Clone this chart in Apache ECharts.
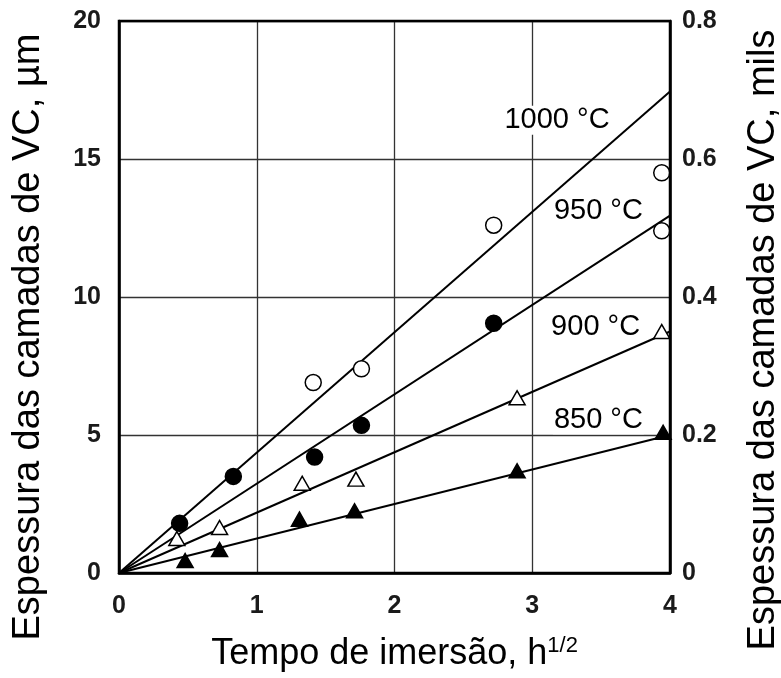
<!DOCTYPE html>
<html><head><meta charset="utf-8">
<script src="https://cdn.jsdelivr.net/npm/echarts@6/dist/echarts.min.js"></script>
<style>html,body{margin:0;padding:0;background:#fff}#c{width:781px;height:678px}</style>
</head><body><div id="c"></div>
<script>
// Data
const xTicks = [0, 1, 2, 3, 4];
const yTicksUm = [0, 5, 10, 15, 20];
const yTicksMils = [0, 0.2, 0.4, 0.6, 0.8];

const pts1000 = [[1.41, 6.9], [1.76, 7.4], [2.72, 12.6], [3.94, 14.5], [3.94, 12.4]];
const pts950 = [[0.44, 1.8], [0.83, 3.5], [1.42, 4.2], [1.76, 5.35], [2.72, 9.05]];
const pts900 = [[0.42, 1.25], [0.73, 1.65], [1.33, 3.25], [1.72, 3.4], [2.89, 6.35], [3.94, 8.75]];
const pts850 = [[0.48, 0.45], [0.73, 0.85], [1.31, 1.95], [1.71, 2.25], [2.89, 3.7], [3.95, 5.1]];

const fit1000 = [[0, 0], [4, 17.45]];
const fit950 = [[0, 0], [4, 12.95]];
const fit900 = [[0, 0], [4, 8.75]];
const fit850 = [[0, 0], [4, 5.0]];

const curveLabels = ['1000 °C', '950 °C', '900 °C', '850 °C'];
const curveLabelAnchors = [[3.18, 16.4], [3.48, 13.1], [3.46, 8.9], [3.48, 5.55]];

const chart = echarts.init(document.getElementById('c'), null, {renderer: 'canvas'});
const font = 'Liberation Sans, Arial, sans-serif';
const tickLabel = {fontFamily: font, fontSize: 25, color: '#1a1a1a', fontWeight: 'bold'};

function lineSeries(d) {
  return {type: 'line', data: d, symbol: 'none', silent: true, yAxisIndex: 0,
    lineStyle: {color: '#000', width: 2}, z: 2};
}
function scatter(d, symbol, filled) {
  return {type: 'scatter', data: d, symbol: symbol, yAxisIndex: 0,
    symbolSize: symbol === 'circle' ? 16 : [16, 14],
    itemStyle: {color: filled ? '#000' : '#fff', borderColor: '#000', borderWidth: 1.5, opacity: 1}, z: 3};
}

const baseGraphic = [{
  type: 'text', x: 29, y: 337, rotation: Math.PI / 2,
  style: {text: 'Espessura das camadas de VC, µm', fontFamily: font, fontSize: 38, fill: '#000',
    textAlign: 'center', textVerticalAlign: 'middle'}
}, {
  type: 'text', x: 764, y: 340, rotation: Math.PI / 2,
  style: {text: 'Espessura das camadas de VC, mils', fontFamily: font, fontSize: 38, fill: '#000',
    textAlign: 'center', textVerticalAlign: 'middle'}
}, {
  type: 'rect', shape: {x: 119, y: 21, width: 551, height: 552}, silent: true, z: 100,
  style: {fill: 'none', stroke: '#000', lineWidth: 2.5}
}];

chart.setOption({
  animation: false,
  backgroundColor: '#fff',
  grid: {left: 119, right: 111, top: 21, bottom: 105, show: false},
  xAxis: {
    type: 'value', min: 0, max: 4, interval: 1,
    axisLine: {show: true, onZero: false, lineStyle: {color: '#000', width: 2.5}},
    axisTick: {show: false},
    axisLabel: Object.assign({margin: 21}, tickLabel),
    splitLine: {show: true, lineStyle: {color: '#333', width: 1.3}},
    name: 'Tempo de imersão, h{sup|1/2}',
    nameLocation: 'middle', nameGap: 62,
    nameTextStyle: {fontFamily: font, fontSize: 36, color: '#000',
      rich: {sup: {fontFamily: font, fontSize: 22, color: '#000', verticalAlign: 'top', padding: [0, 0, 16, 0]}}}
  },
  yAxis: [{
    type: 'value', min: 0, max: 20, interval: 5, position: 'left',
    axisLine: {show: true, onZero: false, lineStyle: {color: '#000', width: 2.5}},
    axisTick: {show: false},
    axisLabel: Object.assign({margin: 18}, tickLabel),
    splitLine: {show: true, lineStyle: {color: '#333', width: 1.3}}
  }, {
    type: 'value', min: 0, max: 0.8, interval: 0.2, position: 'right',
    axisLine: {show: true, onZero: false, lineStyle: {color: '#000', width: 2.5}},
    axisTick: {show: false},
    axisLabel: Object.assign({margin: 12, formatter: v => v === 0 ? '0' : v.toFixed(1)}, tickLabel),
    splitLine: {show: false}
  }],
  graphic: baseGraphic,
  series: [
    lineSeries(fit1000), lineSeries(fit950), lineSeries(fit900), lineSeries(fit850),
    scatter(pts1000, 'circle', false),
    scatter(pts950, 'circle', true),
    scatter(pts900, 'triangle', false),
    scatter(pts850, 'triangle', true)
  ]
});

// Curve labels placed through the chart's own coordinate system
const labelGraphics = curveLabelAnchors.map((p, i) => {
  const px = chart.convertToPixel({xAxisIndex: 0, yAxisIndex: 0}, p);
  return {type: 'text', x: px[0], y: px[1], z: 50,
    style: {text: curveLabels[i], fontFamily: font, fontSize: 29, fill: '#000',
      textAlign: 'center', textVerticalAlign: 'middle',
      backgroundColor: '#fff', padding: [0, 1]}};
});
chart.setOption({graphic: baseGraphic.concat(labelGraphics)});
</script></body></html>
